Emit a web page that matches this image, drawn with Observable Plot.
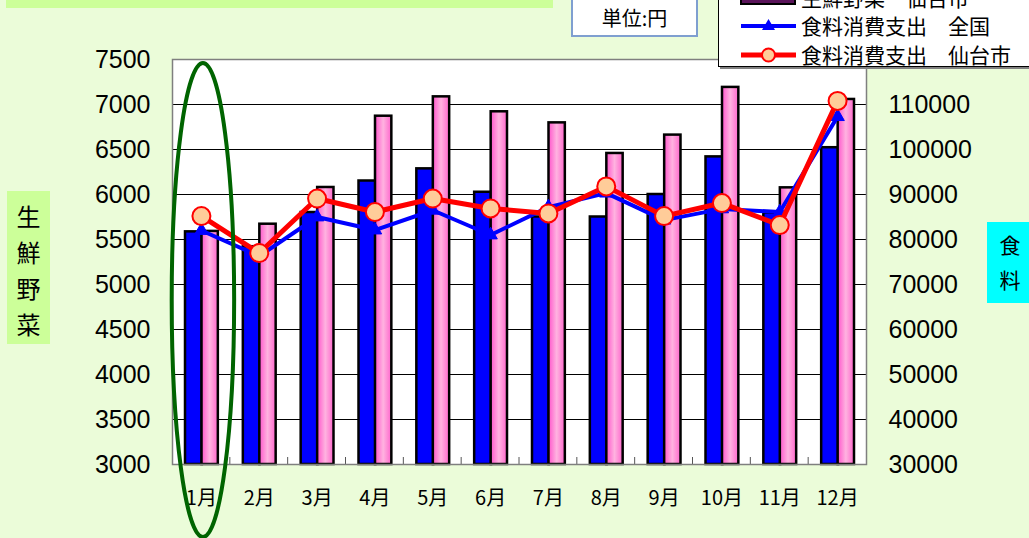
<!DOCTYPE html>
<html>
<head>
<meta charset="utf-8">
<script src="https://cdn.jsdelivr.net/npm/d3@7"></script>
<script src="https://cdn.jsdelivr.net/npm/@observablehq/plot@0.6"></script>
<style>
  html, body { margin: 0; padding: 0; background: #ebfcd9; overflow: hidden; }
  #wrap { position: relative; width: 1029px; height: 538px; overflow: hidden; background: #ebfcd9; }
  #wrap svg.plot { position: absolute; left: 0; top: 0; }
  .cjk { font-family: "Noto Sans CJK JP", "Noto Sans CJK SC", sans-serif; }
  #band { position: absolute; left: 6px; top: 0; width: 547px; height: 8px; background: #ccff99; }
  #unit { position: absolute; left: 571px; top: -4px; width: 123px; height: 37px; background: white; border: 2px solid #7f9fd0; text-align: center; line-height: 39px; font-size: 20px; }
  #legend { position: absolute; left: 718px; top: -42px; width: 340px; height: 107px; background: white; border: 1px solid black; box-shadow: 2px 2px 0 #808080; }
  #ylabL { position: absolute; left: 7px; top: 191px; width: 43px; height: 153px; background: #ccff99; text-align: center; font-size: 24px; line-height: 36px; padding-top: 7px; box-sizing: border-box; }
  #ylabR { position: absolute; left: 987px; top: 222px; width: 46px; height: 81px; background: #00ffff; text-align: center; font-size: 21px; line-height: 35px; padding-top: 5px; box-sizing: border-box; }
</style>
</head>
<body>
<div id="wrap"></div>
<script>
// ---- data ----
const months = ["1月","2月","3月","4月","5月","6月","7月","8月","9月","10月","11月","12月"];
const vegNational = [5585, 5420, 5800, 6150, 6285, 6025, 5750, 5750, 6000, 6418, 5795, 6520];   // 生鮮野菜 全国
const vegSendai   = [5590, 5670, 6078, 6870, 7085, 6919, 6796, 6456, 6660, 7190, 6074, 7056];   // 生鮮野菜 仙台市
const foodNational = [82000, 76300, 85000, 82100, 86500, 81000, 87200, 90300, 84300, 86800, 86100, 107300]; // 食料消費支出 全国
const foodSendai   = [85200, 77000, 89100, 86100, 89100, 86900, 85800, 91800, 85200, 88100, 83200, 110800]; // 食料消費支出 仙台市
const leftTicks = [3000, 3500, 4000, 4500, 5000, 5500, 6000, 6500, 7000, 7500];
const rightTicks = [30000, 40000, 50000, 60000, 70000, 80000, 90000, 100000, 110000, 120000];

// right axis (食料) maps linearly onto left axis (生鮮野菜)
const toLeft = v => 3000 + (v - 30000) / 20;

const barsN = months.map((m, i) => ({month: m, value: vegNational[i]}));
const barsS = months.map((m, i) => ({month: m, value: vegSendai[i]}));
const lineN = months.map((m, i) => ({month: m, value: toLeft(foodNational[i])}));
const lineS = months.map((m, i) => ({month: m, value: toLeft(foodSendai[i])}));

const svgNS = "http://www.w3.org/2000/svg";

// gradient defs
function defsMark() {
  const defs = document.createElementNS(svgNS, "defs");
  defs.innerHTML = `<linearGradient id="pinkGrad" x1="0" x2="1" y1="0" y2="0">
      <stop offset="0" stop-color="#ff55cc"/>
      <stop offset="0.5" stop-color="#ffb3e0"/>
      <stop offset="1" stop-color="#ff66cc"/>
    </linearGradient>`;
  return defs;
}

// small ticks at category boundaries on the x axis
function boundaryTicks(index, scales, values, dims) {
  const g = document.createElementNS(svgNS, "g");
  const bw = scales.x.bandwidth ? scales.x.bandwidth() : 0;
  const y0 = scales.y(3000);
  months.slice(0, 11).forEach(m => {
    const x = scales.x(m) + bw;
    const l = document.createElementNS(svgNS, "line");
    l.setAttribute("x1", x); l.setAttribute("x2", x);
    l.setAttribute("y1", y0); l.setAttribute("y2", y0 - 7);
    l.setAttribute("stroke", "#555"); l.setAttribute("stroke-width", 1);
    g.appendChild(l);
  });
  return g;
}

// green highlight ellipse around January
function ellipseMark(index, scales, values, dims) {
  const bw = scales.x.bandwidth();
  const cx = scales.x(months[0]) + bw / 2 + 2;
  const top = scales.y(7500) + 4;
  const bottom = dims.height - 1;
  const e = document.createElementNS(svgNS, "ellipse");
  e.setAttribute("cx", cx);
  e.setAttribute("cy", (top + bottom) / 2);
  e.setAttribute("rx", bw * 0.54);
  e.setAttribute("ry", (bottom - top) / 2);
  e.setAttribute("fill", "none");
  e.setAttribute("stroke", "#006400");
  e.setAttribute("stroke-width", 4);
  return e;
}

const chart = Plot.plot({
  width: 1029,
  height: 538,
  marginLeft: 172,
  marginRight: 163,
  marginTop: 59,
  marginBottom: 74,
  style: {background: "transparent", fontFamily: "'Liberation Sans', Arial, sans-serif", color: "black", overflow: "visible"},
  x: {type: "band", domain: months, padding: 0, round: false, axis: null},
  y: {domain: [3000, 7500], axis: null},
  marks: [
    defsMark,
    Plot.frame({fill: "white", stroke: null}),
    Plot.gridY(leftTicks, {stroke: "black", strokeOpacity: 1, strokeWidth: 1}),
    Plot.barY(barsN, {x: "month", y1: 3000, y2: "value", fill: "#0000ff", stroke: "black", strokeWidth: 2.5, insetLeft: 13, insetRight: 28}),
    Plot.barY(barsS, {x: "month", y1: 3000, y2: "value", fill: "url(#pinkGrad)", stroke: "black", strokeWidth: 2.5, insetLeft: 29.5, insetRight: 12}),
    boundaryTicks,
    Plot.frame({stroke: "#7f7f7f", strokeWidth: 1.5}),
    Plot.axisY(leftTicks, {anchor: "left", tickSize: 0, tickPadding: 22, fontSize: 25, label: null,
      tickFormat: d => String(d)}),
    Plot.axisY(leftTicks, {anchor: "right", tickSize: 0, tickPadding: 22, fontSize: 25, label: null,
      tickFormat: d => String(rightTicks[leftTicks.indexOf(d)])}),
    Plot.axisX(months, {anchor: "bottom", tickSize: 0, tickPadding: 26, fontSize: 20, label: null,
      fontFamily: "'Noto Sans CJK JP', sans-serif"}),
    Plot.line(lineN, {x: "month", y: "value", stroke: "#0000ff", strokeWidth: 4}),
    Plot.dot(lineN, {x: "month", y: "value", symbol: "triangle", r: 5, fill: "#0000ff", stroke: "#0000ff", strokeWidth: 1}),
    Plot.line(lineS, {x: "month", y: "value", stroke: "#ff0000", strokeWidth: 5}),
    Plot.dot(lineS, {x: "month", y: "value", r: 9, fill: "#ffcc99", stroke: "#ff0000", strokeWidth: 2}),
    ellipseMark
  ]
});
chart.classList.add("plot");

const wrap = document.getElementById("wrap");
wrap.appendChild(chart);

// overlays: band, unit box, legend, axis titles
wrap.insertAdjacentHTML("beforeend", `
  <div id="band"></div>
  <div id="unit" class="cjk">単位:円</div>
  <div id="legend">
    <svg width="340" height="107" style="display:block">
      <g font-family="'Noto Sans CJK JP', sans-serif" font-size="21" fill="black">
        <rect x="22" y="5" width="54" height="12" fill="#0000ff" stroke="black" stroke-width="2"/>
        <text x="82" y="11" dy="0.36em">生鮮野菜　全国</text>
        <rect x="22" y="33" width="54" height="12" fill="#5a145a" stroke="black" stroke-width="2"/>
        <text x="82" y="39" dy="0.36em">生鮮野菜　仙台市</text>
        <line x1="22" x2="77" y1="67" y2="67" stroke="#0000ff" stroke-width="4"/>
        <path d="M49.5,60 L56,71 L43,71 Z" fill="#0000ff"/>
        <text x="82" y="67" dy="0.36em">食料消費支出　全国</text>
        <line x1="22" x2="77" y1="96" y2="96" stroke="#ff0000" stroke-width="5"/>
        <circle cx="49.5" cy="96" r="6.5" fill="#ffcc99" stroke="#ff0000" stroke-width="2"/>
        <text x="82" y="96" dy="0.36em">食料消費支出　仙台市</text>
      </g>
    </svg>
  </div>
  <div id="ylabL" class="cjk">生<br>鮮<br>野<br>菜</div>
  <div id="ylabR" class="cjk">食<br>料</div>
`);
</script>
</body>
</html>
